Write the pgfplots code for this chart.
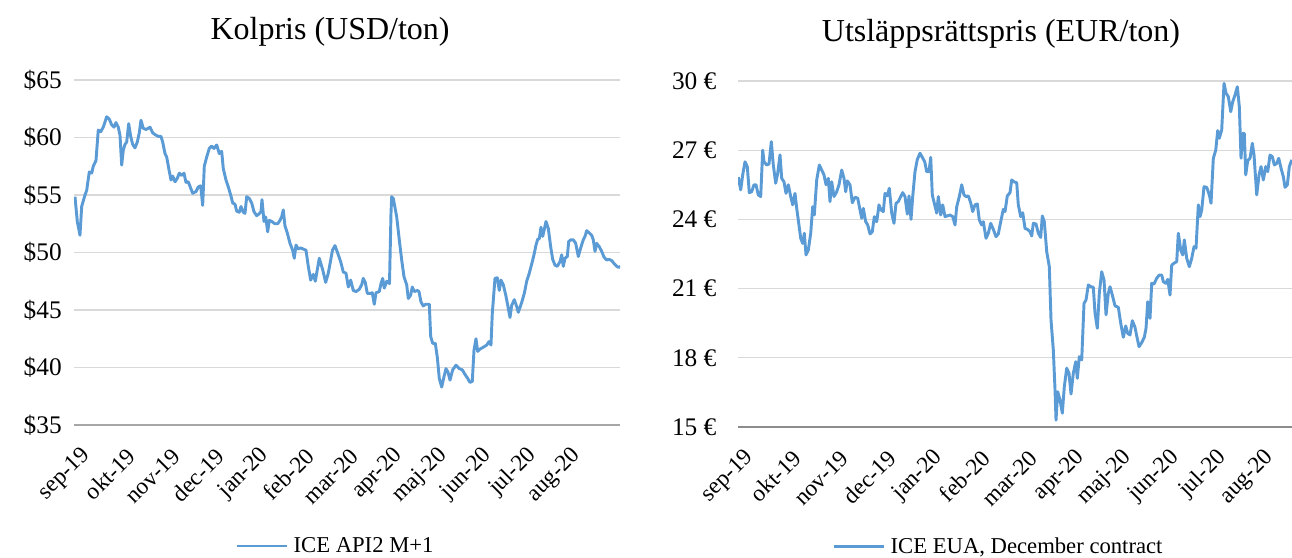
\documentclass[border=0pt]{standalone}
\usepackage{pgfplots}
\pgfplotsset{compat=1.18}
\usepackage{fontspec}
\setmainfont{Liberation Serif}
\definecolor{linec}{HTML}{5B9BD5}
\definecolor{gridc}{HTML}{D9D9D9}
\definecolor{axl}{HTML}{A6A6A6}
\definecolor{axr}{HTML}{8C8C8C}

\pgfplotsset{
 mystyle/.style={
  scale only axis,
  anchor=south west,
  axis x line*=bottom,
  axis y line*=left,
  y axis line style={draw=none},
  major tick length=0pt,
  ymajorgrids,
  grid style={draw=gridc, line width=1pt},
  xtick={0,...,11},
  xticklabels={sep-19,okt-19,nov-19,dec-19,jan-20,feb-20,mar-20,apr-20,maj-20,jun-20,jul-20,aug-20},
  xticklabel style={font=\fontsize{17.5}{19}\selectfont, inner sep=0pt, xshift=9pt, yshift=-20.5pt, rotate=45, anchor=east},
  yticklabel style={font=\fontsize{19}{21}\selectfont, inner sep=0pt, anchor=east},
  title style={font=\fontsize{24}{28}\selectfont, anchor=center, inner sep=0pt},
  legend style={draw=none, fill=none, inner sep=0pt, outer sep=0pt, anchor=west, column sep=4pt,
    font=\fontsize{17}{19}\selectfont, nodes={inner sep=0pt}},
  legend image code/.code={\draw[linec, line width=2.2pt] (0pt,0pt) -- (37pt,0pt);},
 }
}

\pgfplotstableread{
px v
75 54.85
77.3 52.7
80 51.5
81.7 54.0
85 55.0
86.7 55.4
89.3 57.0
91.7 56.9
93.3 57.5
96 58.0
98.3 60.65
100.7 60.5
103.3 60.9
106.7 61.8
109.3 61.6
111.7 61.1
114 60.9
116 61.3
118.3 60.9
120 60.2
121.7 57.6
123.3 58.9
125 59.4
126.7 59.6
128.7 61.2
130.7 60.1
132.7 59.4
135 59.1
137.3 59.6
139.3 60.4
141 61.5
143.3 60.8
146 60.7
148.3 60.8
150 60.9
152.7 60.4
156 60.2
158.3 60.1
161 60.1
162.7 59.6
165 58.6
166.7 58.3
169 57.2
171 56.3
172.7 56.65
175 56.15
177.3 56.45
179.3 56.9
181.7 56.7
184 56.9
186 56.1
188.3 56.15
190.7 55.6
192.7 55.15
196 55.3
198.3 55.7
200.7 55.8
202.7 54.1
204.3 57.5
206.7 58.3
209.3 59.05
211.7 59.25
214 59.05
216.7 59.35
219.3 58.6
221.7 58.8
223.3 57.3
226 56.3
228.3 55.7
230.7 55.0
232.7 54.3
235 54.2
236.7 53.6
239.3 53.5
241 54.0
243.3 53.5
245 53.4
246.7 54.85
249.3 54.7
251.7 54.3
254 53.55
256.7 53.2
259 53.35
261 53.55
262 54.6
264 52.7
265.7 53.1
267.7 51.8
269.3 52.8
271.7 52.7
275 52.5
277.7 52.5
280 52.8
281.7 53.1
283.3 53.7
285 52.3
287.3 51.7
290 50.8
292.7 50.2
294.3 49.5
296 50.65
298.3 50.3
300.7 50.4
303.3 50.3
306 50.2
308.3 48.8
310.7 47.6
313.3 48.1
315.3 47.5
319.3 49.5
322.7 48.5
325.7 47.4
328.3 48.2
330 49.0
332.5 50.2
335 50.6
338.3 49.8
340.7 49.2
343.3 48.3
346 48.2
348.3 47.0
350.7 47.6
353.3 46.7
356 46.6
359.3 46.8
361.7 47.2
363.3 47.75
365.3 47.4
367.3 46.45
370.7 46.45
372.3 46.5
374.3 45.5
376 46.5
379.3 46.6
381 47.3
382.7 47.75
384.3 46.9
386.7 47.5
389.5 47.3
391 53.4
391.7 54.85
393.3 54.7
396.7 53.1
399.3 51.1
401.7 49.35
404 47.9
406.7 47.2
408.3 46.0
410.7 46.3
412.3 47.0
414.3 46.6
417.3 46.7
419 46.6
421 45.7
423.3 45.35
425.7 45.5
429.3 45.5
430.7 42.7
432.7 42.1
435.3 42.1
437.3 40.9
439.3 39.05
441.7 38.3
444 39.2
446 39.9
448 39.6
450 38.9
452.7 39.8
456 40.2
459.3 39.9
462.3 39.8
465 39.4
467.7 39.05
470 38.7
472.3 38.8
474 41.5
476 42.5
477.7 41.4
480 41.6
484 41.8
486.7 41.95
489 42.25
491 41.95
492.3 44.7
495 47.75
497.3 47.8
499.3 46.7
501 47.6
503.3 47.2
506 46.2
508.3 45.15
510 44.35
511.7 45.4
514.3 45.9
516.7 45.3
518.3 44.8
521.7 45.65
524.3 46.45
526.7 47.5
529.3 48.2
532 49.1
534 49.8
536 50.65
537.7 51.15
539.3 51.2
541 52.2
542.7 51.4
544.3 52.0
546 52.7
548.3 52.1
550.7 50.5
552.7 49.4
555 48.9
557.3 48.8
560 49.2
561.7 49.8
563.3 48.8
565 49.5
567.3 49.65
568.7 50.95
570.7 51.1
573.3 51.1
575.7 50.8
578.3 49.65
580.7 50.4
583.3 51.1
585 51.4
586.7 51.9
589.3 51.7
591.7 51.5
593.3 51.1
595 50.1
596.7 50.8
599.3 50.5
601.7 50.1
604 49.6
606.7 49.35
609 49.4
611.7 49.3
614 49.05
616.7 48.8
618.7 48.7
620.7 48.8
}\coal

\pgfplotstableread{
px v
738.3 25.83
740.7 25.28
742.7 25.93
745 26.5
747.3 26.28
749.3 25.16
751.7 25.2
754 25.5
756 25.5
758.3 25.06
760.7 24.99
762.7 27.0
764 26.5
766.7 26.36
769 26.4
771.3 27.37
773.3 26.36
775.7 25.57
777.7 26.0
780 26.8
781.7 25.78
784 25.63
786 25.13
788.3 25.5
790.7 24.99
792.7 24.63
795 25.13
796.7 24.48
798.3 23.97
800.7 23.18
802.7 22.96
804.3 23.4
806 22.46
808.3 22.67
810.7 23.4
812.7 24.55
814.3 24.19
816.7 25.71
819.3 26.36
821.7 26.14
824 25.93
826 25.5
828.3 25.78
830 24.77
831.7 25.63
834 24.99
836.7 25.2
839 25.5
841.7 26.14
844 25.78
845.7 25.2
847.3 25.67
850 25.5
852.3 24.72
855 24.96
857.7 24.92
860 24.41
861.7 24.05
863.3 24.48
865.7 23.9
867.7 23.76
870 23.37
872.3 23.47
874.3 24.12
876.7 23.9
879 24.63
881 24.41
883.3 24.34
885 25.13
887.3 25.02
889.3 25.35
891.7 24.27
894 23.83
896 24.7
898.3 24.77
900.7 24.99
902.7 25.16
905 24.99
907.3 24.23
909 25.02
911 24.0
912.7 24.99
915 26.07
917.3 26.6
920 26.87
922.3 26.69
924.7 26.5
926.7 26.07
929 26.07
930.7 26.69
932.3 25.06
934.3 24.7
936.7 24.27
938.3 24.99
940.7 24.19
942.7 24.63
945 24.12
947.3 24.15
950 24.19
952.7 24.12
955 23.76
956.7 24.55
959.3 24.99
961.7 25.5
964 25.06
966 24.99
968.3 25.02
970.7 24.72
972.7 24.34
975 24.63
977.3 24.67
979.3 23.97
981.7 23.76
983.3 23.9
986 23.18
988.3 23.4
990.7 23.83
993.3 23.57
996 23.25
998.3 23.37
1000.7 23.9
1003.3 24.44
1005 24.34
1007.3 25.02
1010 25.16
1011.7 25.71
1014 25.63
1016.7 25.59
1018.3 24.63
1020.7 24.12
1022.7 24.29
1025 23.61
1027.3 23.57
1030 23.47
1031.7 23.28
1033.3 23.83
1036 23.8
1038.3 23.4
1040.7 23.22
1042.3 24.15
1044.3 23.9
1046.7 22.6
1049.3 21.95
1051 19.64
1053.3 18.34
1055 16.61
1056 15.3
1057.7 16.53
1060 16.17
1062.3 15.6
1064.3 16.75
1066.7 17.55
1069 17.33
1071 16.43
1073.3 17.33
1075.7 17.83
1077.3 17.11
1079.3 18.05
1081.7 17.91
1084 20.36
1086 20.51
1088.3 21.16
1091 21.08
1093.3 21.06
1095 19.93
1097.3 19.28
1099.3 20.8
1101.7 21.73
1104 21.37
1106 19.86
1108.3 20.8
1110 21.08
1112.3 20.72
1115 20.25
1118.3 20.19
1120.7 19.5
1123.3 18.89
1125.7 19.38
1127.7 19.06
1130 18.99
1132.3 19.61
1135 19.32
1136.7 18.95
1139 18.48
1141.7 18.66
1144.3 18.89
1146 19.28
1147.7 20.43
1150 19.71
1151.7 21.23
1154 21.2
1156.7 21.45
1159.3 21.59
1161.7 21.59
1163.3 21.3
1165.7 21.23
1167.7 21.4
1170 20.72
1171.7 22.02
1174 22.1
1176.7 22.17
1178.3 23.4
1180.7 22.67
1182.7 22.46
1184.3 23.11
1186.7 22.31
1189.3 21.95
1191.7 22.31
1194 22.82
1196 22.75
1198.3 24.63
1200 24.12
1201.7 24.41
1204 25.42
1206.7 25.39
1209.3 25.06
1211 24.7
1213.3 26.65
1215.7 27.0
1217.7 27.85
1219.3 27.52
1221.7 27.88
1224 29.9
1226 29.47
1228.3 29.32
1230.7 28.67
1232.7 29.1
1235 29.39
1237.3 29.75
1239.3 28.89
1241 26.65
1242.7 27.73
1244.3 27.73
1245.7 25.93
1247.7 26.55
1250 26.65
1252.3 27.3
1254 26.79
1256.7 25.06
1259 25.93
1261 26.29
1263.3 25.71
1265.7 26.29
1267.7 26.07
1270 26.79
1272.3 26.72
1274.3 26.36
1276.7 26.43
1278.7 26.65
1281 26.22
1283.3 25.85
1285 25.39
1287.3 25.5
1289.3 26.29
1291.7 26.58
}\eua

\begin{document}
\begin{tikzpicture}
\path[use as bounding box] (0,0) rectangle (969pt,417.75pt);

\begin{axis}[mystyle,
  at={(55.5pt,99pt)}, width=409.5pt, height=258.75pt,
  x filter/.expression={(x-75)/44.6},
  xmin=-0.022, xmax=12.22,
  ymin=35, ymax=65,
  ytick={35,40,45,50,55,60,65},
  yticklabels={\$35,\$40,\$45,\$50,\$55,\$60,\$65},
  yticklabel style={xshift=-9pt},
  x axis line style={draw=axl, line width=1pt, -},
  title={Kolpris (USD/ton)},
  title style={at={(0.469,1.116)}},
  legend style={at={(0.2967,-0.3507)}},
]
\addplot[linec, line width=2.2pt, line join=round, no markers] table[x=px, y=v] {\coal};
\addlegendentry{ICE API2 M+1}
\end{axis}

\begin{axis}[mystyle,
  at={(553.5pt,97.5pt)}, width=415.5pt, height=259.5pt,
  x filter/.expression={(x-738)/47.3},
  xmin=0, xmax=11.712,
  ymin=15, ymax=30,
  ytick={15,18,21,24,27,30},
  yticklabels={15 €,18 €,21 €,24 €,27 €,30 €},
  yticklabel style={xshift=-16pt},
  x axis line style={draw=axr, line width=1pt, -},
  title={Utsläppsrättspris (EUR/ton)},
  title style={at={(0.4747,1.1127)}},
  legend style={at={(0.1715,-0.3460)}},
]
\addplot[linec, line width=2.2pt, line join=round, no markers] table[x=px, y=v] {\eua};
\addlegendentry{ICE EUA, December contract}
\end{axis}
\end{tikzpicture}
\end{document}
